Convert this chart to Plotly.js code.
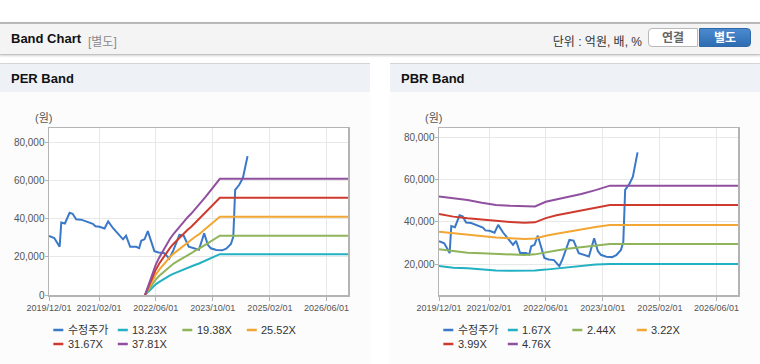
<!DOCTYPE html>
<html>
<head>
<meta charset="utf-8">
<script src="https://cdn.plot.ly/plotly-3.0.1.min.js"></script>
<style>
  html, body { margin:0; padding:0; background:#fff; }
  body { width:760px; height:364px; position:relative; overflow:hidden;
         font-family:"Liberation Sans","Noto Sans CJK KR",Arial,sans-serif; }
  .topbar { position:absolute; left:0; top:22px; width:760px; height:30px;
            background:#f4f4f4; border-top:2px solid #b8b8b8; border-bottom:1px solid #c4c4c4;
            box-shadow:0 1px 2px rgba(0,0,0,0.18); }
  .topbar .title { position:absolute; left:11px; top:7px; font-size:13px; font-weight:bold; color:#111; }
  .topbar .sub { position:absolute; left:88px; top:8px; font-size:12px; color:#8a8a8a; }
  .topbar .unit { position:absolute; right:118px; top:8px; font-size:12px; color:#333; }
  .btn { position:absolute; top:4px; height:19px; width:50px; font-size:12px; font-weight:bold;
         text-align:center; line-height:19px; box-sizing:border-box; }
  .btn1 { left:648px; background:#fff; color:#666; border:1px solid #b9b9b9; border-radius:4px 0 0 4px; }
  .btn2 { left:699px; width:52px; background:linear-gradient(#4c8ad0,#2f6db3); color:#fff;
          border:1px solid #2f67a8; border-radius:0 4px 4px 0; }
  .panel { position:absolute; top:63px; width:370px; height:300px; background:#fcfcfc;
           border-top:1px solid #d4d4d4; border-bottom:1px solid #dcdcdc; }
  .panel .ph { position:absolute; left:0; top:0; width:370px; height:28px; background:#eef1f6; }
  .panel .ph span { position:absolute; left:11px; top:7px; font-size:13px; font-weight:bold; color:#111; }
  .chart { position:absolute; left:0; top:29px; width:370px; height:270px; }
</style>
</head>
<body>
<div class="topbar">
  <span class="title">Band Chart</span><span class="sub">[별도]</span>
  <span class="unit">단위 : 억원, 배, %</span>
  <div class="btn btn1">연결</div><div class="btn btn2">별도</div>
</div>
<div class="panel" style="left:0;"><div class="ph"><span>PER Band</span></div><div id="per" class="chart"></div></div>
<div class="panel" style="left:390px;"><div class="ph"><span>PBR Band</span></div><div id="pbr" class="chart"></div></div>
<script>
// ---- data ----
const priceName = '수정주가';
const priceDates = ['2019-12-01','2020-01-15','2020-03-01','2020-03-15','2020-04-15','2020-05-25','2020-06-20','2020-07-20',
  '2020-09-01','2020-10-15','2020-12-10','2021-01-01','2021-02-05','2021-03-20','2021-04-20','2021-06-01','2021-07-01',
  '2021-08-25','2021-09-20','2021-10-25','2021-12-15','2022-01-10','2022-01-28','2022-02-25','2022-03-25','2022-04-20',
  '2022-05-20','2022-06-25','2022-08-10','2022-09-25','2022-10-25','2022-12-20','2023-01-25','2023-03-10','2023-04-25',
  '2023-06-05','2023-07-20','2023-08-20','2023-09-15','2023-11-01','2023-12-20','2024-01-25','2024-03-05','2024-03-25',
  '2024-04-10','2024-05-15','2024-06-15','2024-07-25'];
const priceValues = [30900,29900,25300,38000,37500,43100,42600,39700,
  39500,38500,37300,36000,35800,34900,38600,35000,33100,
  29200,31100,25300,25300,24600,28500,29200,33500,28500,
  23000,22300,22000,19100,22800,31500,31200,25300,24600,
  23700,32300,26300,24500,23600,23400,24300,26800,30500,
  55100,57800,61300,72800];

const perNames = ['13.23X','19.38X','25.52X','31.67X','37.81X'];
const perDates = ['2022-03-01','2022-04-01','2022-05-01','2022-06-01','2022-07-01','2022-08-01','2022-09-01','2022-10-01',
  '2022-11-01','2022-12-01','2023-01-01','2023-02-01','2023-03-01','2023-04-01','2023-05-01','2023-06-01','2023-07-01',
  '2023-08-01','2023-09-01','2023-10-01','2023-11-01','2023-12-01','2026-12-01'];
const per1323 = [0,2000,4000,5600,6900,8100,9300,10300,11200,12000,12700,13500,14300,15000,15700,16400,17200,18000,18800,19600,20500,21400,21400];
const per1938 = [0,2900,5800,8100,10100,11800,13600,15100,16500,17600,18600,19800,20900,21900,23100,24000,25200,26400,27500,28700,30000,31100,31100];
const per2552 = [0,3800,7700,10700,13300,15600,17900,19900,21700,23200,24500,26000,27600,28800,30400,31600,33200,34700,36200,37800,39600,41000,41000];
const per3167 = [0,4800,9500,13300,16500,19300,22200,24700,26900,28800,30400,32300,34200,35800,37700,39300,41200,43100,45000,46900,49100,51000,51000];
const per3781 = [0,5700,11300,15900,19700,23100,26500,29500,32100,34400,36300,38600,40800,42700,45000,46900,49200,51400,53700,56000,58600,60900,60900];

const pbrNames = ['1.67X','2.44X','3.22X','3.99X','4.76X'];
const pbrDates = ['2019-12-01','2020-04-01','2020-08-01','2020-12-01','2021-04-01','2021-08-01','2021-12-01','2022-03-01',
  '2022-06-01','2022-09-01','2022-12-01','2023-04-01','2023-08-01','2023-12-01','2026-12-01'];
const pbr167 = [19200,18400,18100,17600,17100,17000,17000,17100,17500,18000,18600,19300,19900,20200,20200];
const pbr244 = [27100,26300,25500,25200,24900,24500,24400,24700,25700,26500,27300,28000,28900,29600,29600];
const pbr322 = [35400,34700,33900,33200,32700,32300,32000,32200,33500,34400,35300,36700,37600,38600,38600];
const pbr399 = [43800,42500,41700,41000,40500,40000,39600,39800,41800,43100,44100,45600,46800,48000,48000];
const pbr476 = [52000,51200,50300,49000,48000,47600,47250,47300,49500,50600,51500,53200,55000,57100,57100];

const xTickVals = ['2019-12-01','2021-02-01','2022-06-01','2023-10-01','2025-02-01','2026-06-01'];
const xTickText = ['2019/12/01','2021/02/01','2022/06/01','2023/10/01','2025/02/01','2026/06/01'];
const perYTicks = [0,20000,40000,60000,80000];
const pbrYTicks = [20000,40000,60000,80000];

// ---- styles ----
const priceColor = '#3a78c8';
const bandColors = ['#21b1c2','#8fb45a','#f2a634','#cf3a2e','#91509f'];
const fontFam = '"Liberation Sans","Noto Sans CJK KR",Arial,sans-serif';

const W = 370, H = 270, M = {l: 49, r: 22, t: 35, b: 68};
const PW = W - M.l - M.r, PH = H - M.t - M.b;

function build(divId, dates, bandSeries, names, yRange, yTicks) {
  const traces = [{
    x: priceDates, y: priceValues, name: priceName, type: 'scatter', mode: 'lines',
    line: {color: priceColor, width: 2}
  }];
  bandSeries.forEach((s, i) => traces.push({
    x: dates, y: s, name: names[i], type: 'scatter', mode: 'lines',
    line: {color: bandColors[i], width: 2}
  }));

  // custom legend (4 per row, compact swatches) built from trace names/colours
  const shapes = [], annotations = [];
  traces.forEach((t, i) => {
    const row = Math.floor(i / 4), col = i % 4;
    const sx = 4.3 + col * 64.5;          // px offset from plot left
    const cy = 35 + row * 14;             // px below plot bottom
    const py = -cy / PH;
    shapes.push({type: 'line', xref: 'paper', yref: 'paper',
      x0: sx / PW, x1: (sx + 10) / PW, y0: py, y1: py,
      line: {color: t.line.color, width: 2.5}});
    annotations.push({text: t.name, xref: 'paper', yref: 'paper',
      x: (sx + 12.5) / PW, y: py, xanchor: 'left', yanchor: 'middle', showarrow: false,
      font: {family: fontFam, size: 11, color: '#333'}});
  });
  annotations.push({text: '(원)', xref: 'paper', yref: 'paper', x: -0.02, y: 1.06,
    xanchor: 'center', yanchor: 'middle', showarrow: false,
    font: {family: fontFam, size: 11, color: '#555'}});

  const layout = {
    width: W, height: H, margin: M,
    paper_bgcolor: '#fcfcfc', plot_bgcolor: '#ffffff',
    font: {family: fontFam, size: 11, color: '#555'},
    showlegend: false,
    xaxis: {type: 'date', range: ['2019-12-01','2026-12-01'], tickmode: 'array',
            tickvals: xTickVals, ticktext: xTickText, tickfont: {size: 9, color: '#555'},
            showgrid: true, gridcolor: '#e8e8e8', gridwidth: 1,
            showline: true, linecolor: '#b4b4b4', linewidth: 1.5, mirror: true,
            ticks: 'outside', ticklen: 4, tickcolor: '#b4b4b4', zeroline: false, fixedrange: true},
    yaxis: {range: yRange, tickmode: 'array', tickvals: yTicks, tickformat: ',d',
            tickfont: {size: 10, color: '#555'},
            showgrid: true, gridcolor: '#e8e8e8', gridwidth: 1,
            showline: true, linecolor: '#b4b4b4', linewidth: 1.5, mirror: true,
            ticks: 'outside', ticklen: 3, tickcolor: '#b4b4b4', zeroline: false, fixedrange: true,
            ticklabelstandoff: -2},
    shapes: shapes,
    annotations: annotations
  };
  Plotly.newPlot(divId, traces, layout, {displayModeBar: false, staticPlot: true});
}

build('per', perDates, [per1323, per1938, per2552, per3167, per3781], perNames, [0, 87550], perYTicks);
build('pbr', pbrDates, [pbr167, pbr244, pbr322, pbr399, pbr476], pbrNames, [5530, 84300], pbrYTicks);
</script>
</body>
</html>
